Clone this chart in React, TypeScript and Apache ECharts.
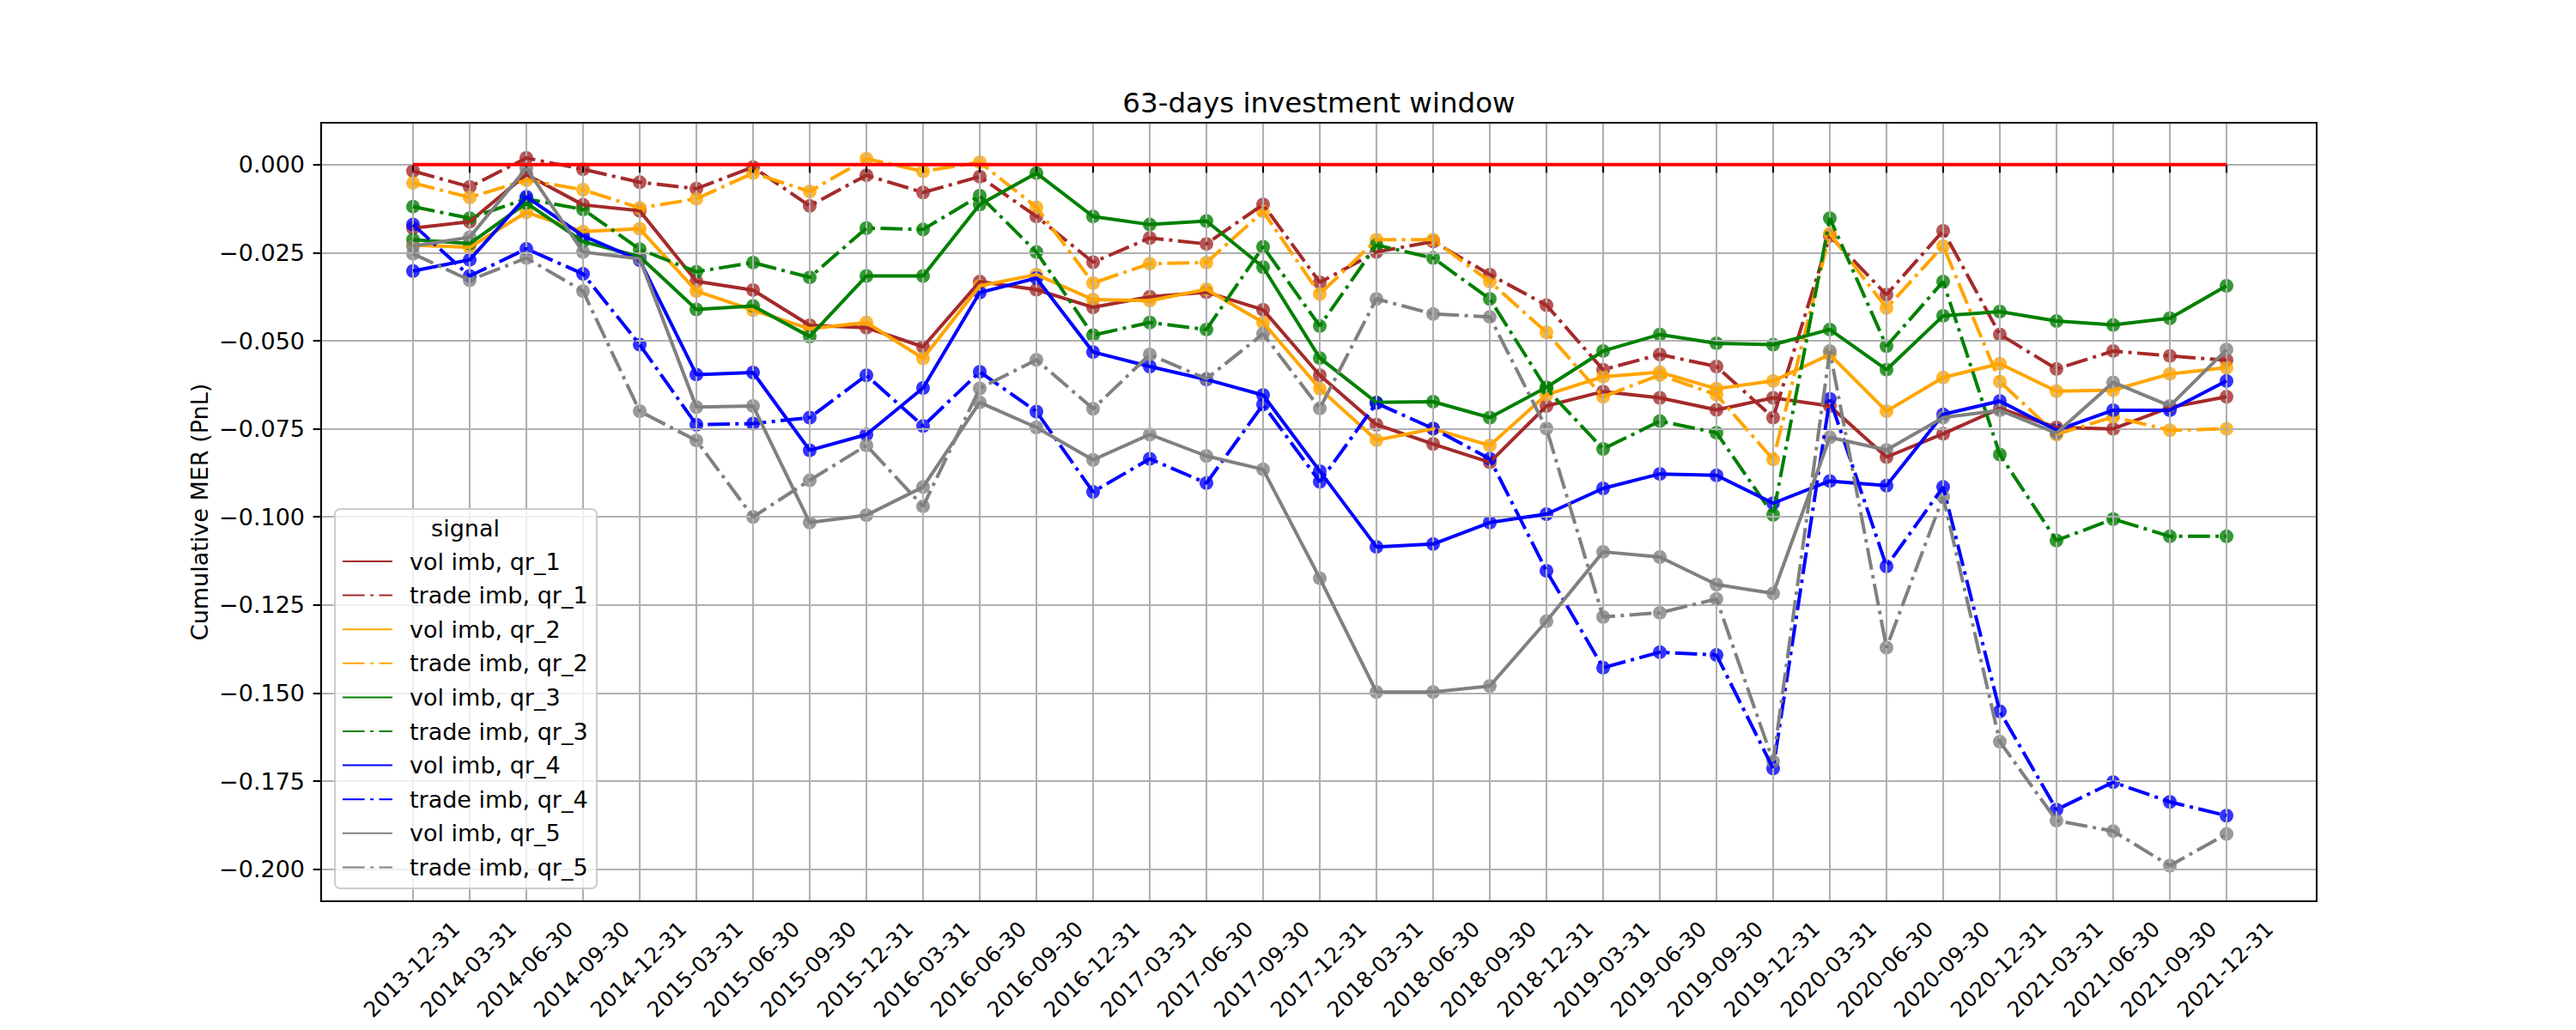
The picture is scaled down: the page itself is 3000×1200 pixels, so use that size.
import React, { useEffect, useRef } from "react";
import * as echarts from "echarts";

// ---------------- data ----------------
const categories = [
  "2013-12-31", "2014-03-31", "2014-06-30", "2014-09-30", "2014-12-31",
  "2015-03-31", "2015-06-30", "2015-09-30", "2015-12-31", "2016-03-31",
  "2016-06-30", "2016-09-30", "2016-12-31", "2017-03-31", "2017-06-30",
  "2017-09-30", "2017-12-31", "2018-03-31", "2018-06-30", "2018-09-30",
  "2018-12-31", "2019-03-31", "2019-06-30", "2019-09-30", "2019-12-31",
  "2020-03-31", "2020-06-30", "2020-09-30", "2020-12-31", "2021-03-31",
  "2021-06-30", "2021-09-30", "2021-12-31",
];

const volQr1 = [
  -0.018, -0.0162, -0.0028, -0.0114, -0.0131, -0.0331, -0.0356, -0.0456, -0.0463, -0.0517,
  -0.0332, -0.0355, -0.0405, -0.0375, -0.0362, -0.0412, -0.0598, -0.0738, -0.0793, -0.0845,
  -0.0685, -0.0644, -0.0662, -0.0696, -0.0662, -0.0685, -0.083, -0.0764, -0.0692, -0.0746,
  -0.075, -0.0689, -0.0659,
];
const tradeQr1 = [
  -0.0018, -0.0063, 0.0019, -0.0013, -0.005, -0.0068, -0.0007, -0.0117, -0.003, -0.0079,
  -0.0034, -0.0147, -0.0277, -0.0208, -0.0225, -0.0113, -0.0334, -0.0248, -0.0218, -0.0312,
  -0.0399, -0.0582, -0.0539, -0.0573, -0.0718, -0.0202, -0.0369, -0.0188, -0.0482, -0.058,
  -0.0529, -0.0543, -0.0555,
];
const volQr2 = [
  -0.0228, -0.0235, -0.0135, -0.019, -0.0182, -0.0359, -0.0413, -0.0466, -0.0448, -0.055,
  -0.0344, -0.0312, -0.0383, -0.0386, -0.0354, -0.0448, -0.0636, -0.0782, -0.075, -0.0797,
  -0.0653, -0.0602, -0.0589, -0.0636, -0.0614, -0.0539, -0.07, -0.0604, -0.0565, -0.0643,
  -0.064, -0.0594, -0.0576,
];
const tradeQr2 = [
  -0.0052, -0.0093, -0.0044, -0.0071, -0.0123, -0.0097, -0.0024, -0.0076, 0.0017, -0.0019,
  0.0007, -0.0121, -0.0336, -0.0281, -0.0278, -0.0133, -0.0367, -0.0213, -0.0213, -0.0332,
  -0.0476, -0.0659, -0.0597, -0.0653, -0.0837, -0.0196, -0.0407, -0.0231, -0.0616, -0.0766,
  -0.0716, -0.0754, -0.075,
];
const volQr3 = [
  -0.0213, -0.0224, -0.0109, -0.0218, -0.0261, -0.0411, -0.0401, -0.0488, -0.0316, -0.0316,
  -0.0113, -0.0024, -0.0147, -0.017, -0.016, -0.0291, -0.0549, -0.0675, -0.0673, -0.0718,
  -0.0632, -0.0529, -0.0482, -0.0507, -0.0511, -0.0468, -0.0582, -0.0429, -0.0417, -0.0444,
  -0.0455, -0.0436, -0.0344,
];
const tradeQr3 = [
  -0.0119, -0.0152, -0.0097, -0.0127, -0.024, -0.0304, -0.0278, -0.032, -0.018, -0.0184,
  -0.0088, -0.0248, -0.0484, -0.0448, -0.0468, -0.0233, -0.0458, -0.0228, -0.0265, -0.0381,
  -0.0636, -0.0807, -0.0728, -0.0761, -0.0994, -0.0152, -0.0515, -0.0332, -0.0823, -0.1067,
  -0.1006, -0.1055, -0.1055,
];
const volQr4 = [
  -0.0302, -0.027, -0.0091, -0.0202, -0.0271, -0.0596, -0.059, -0.0811, -0.0766, -0.0634,
  -0.0363, -0.0322, -0.0532, -0.0573, -0.061, -0.0654, -0.087, -0.1085, -0.1077, -0.1016,
  -0.0992, -0.0919, -0.0878, -0.0882, -0.0961, -0.0898, -0.0911, -0.0709, -0.0671, -0.0754,
  -0.0697, -0.0697, -0.0614,
];
const tradeQr4 = [
  -0.017, -0.0316, -0.0239, -0.031, -0.0511, -0.0738, -0.0735, -0.0718, -0.0598, -0.0742,
  -0.0588, -0.0701, -0.0929, -0.0835, -0.0904, -0.0681, -0.09, -0.0677, -0.0749, -0.0835,
  -0.1153, -0.1428, -0.1384, -0.1392, -0.1714, -0.0665, -0.114, -0.0915, -0.1552, -0.1831,
  -0.1753, -0.1809, -0.1848,
];
const volQr5 = [
  -0.0231, -0.0206, -0.001, -0.0248, -0.0267, -0.0688, -0.0685, -0.1016, -0.0995, -0.0915,
  -0.0675, -0.0746, -0.0838, -0.0766, -0.0827, -0.0865, -0.1174, -0.1497, -0.1497, -0.148,
  -0.1296, -0.1099, -0.1114, -0.1192, -0.1217, -0.0774, -0.081, -0.0718, -0.0697, -0.0762,
  -0.0618, -0.0685, -0.0525,
];
const tradeQr5 = [
  -0.0253, -0.0328, -0.0265, -0.0359, -0.07, -0.0783, -0.1, -0.0896, -0.0797, -0.097,
  -0.0635, -0.0554, -0.0693, -0.0539, -0.0608, -0.048, -0.0692, -0.0381, -0.0424, -0.0432,
  -0.0749, -0.1284, -0.1272, -0.1233, -0.1694, -0.0529, -0.1371, -0.0943, -0.1638, -0.1862,
  -0.1892, -0.199, -0.19,
];
const zeroLine = [
  0, 0, 0, 0, 0, 0, 0, 0, 0, 0, 0, 0, 0, 0, 0, 0, 0, 0, 0, 0, 0, 0, 0, 0, 0, 0, 0, 0, 0, 0, 0, 0, 0,
];

const seriesNames = [
  "vol imb, qr_1", "trade imb, qr_1",
  "vol imb, qr_2", "trade imb, qr_2",
  "vol imb, qr_3", "trade imb, qr_3",
  "vol imb, qr_4", "trade imb, qr_4",
  "vol imb, qr_5", "trade imb, qr_5",
];
const seriesValues = [
  volQr1, tradeQr1, volQr2, tradeQr2, volQr3, tradeQr3, volQr4, tradeQr4, volQr5, tradeQr5,
];
const seriesColors = [
  "#a52a2a", "#a52a2a", "#ffa500", "#ffa500", "#008000", "#008000",
  "#0000ff", "#0000ff", "#808080", "#808080",
];
const seriesDashDot = [false, true, false, true, false, true, false, true, false, true];

const titleText = "63-days investment window";
const yAxisTitle = "Cumulative MER (PnL)";
const legendTitle = "signal";
const yTickMin = -0.2;
const yTickMax = 0;
const yTickStep = 0.025;

// ---------------- layout / style ----------------
const FONT = "'DejaVu Sans', sans-serif";
const PLOT_LEFT = 374;
const PLOT_RIGHT = 2698;
const PLOT_TOP = 143;
const PLOT_BOTTOM = 1050;
const CAT_FIRST_X = 481;
const CAT_LAST_X = 2593;
const Y_MIN = -0.2091;
const Y_MAX = 0.0119;
const FS = 27;
const XFS = 25;
const LINE_W = 4;
const DASHDOT = [25.7, 6.4, 4, 6.4];
const GRID_COLOR = "#b0b0b0";
const THIN = 2.1;
const TICK_LEN = 9.4;

export default function App() {
  const ref = useRef<HTMLDivElement>(null);

  useEffect(() => {
    if (!ref.current) return;
    const chart = echarts.init(ref.current, undefined, { renderer: "svg" });

    const PW = PLOT_RIGHT - PLOT_LEFT;
    const PH = PLOT_BOTTOM - PLOT_TOP;
    const span = Y_MAX - Y_MIN;
    const tickGridTop = PLOT_TOP + ((Y_MAX - yTickMax) / span) * PH;
    const tickGridH = ((yTickMax - yTickMin) / span) * PH;
    const catW = CAT_LAST_X - CAT_FIRST_X;
    const labelDx = 50;

    const lineSeries: any[] = seriesNames.map((name, i) => ({
      type: "line",
      name,
      xAxisIndex: 2,
      yAxisIndex: 2,
      data: seriesValues[i],
      showSymbol: false,
      symbol: "circle",
      symbolSize: 16,
      lineStyle: {
        color: seriesColors[i],
        width: LINE_W,
        type: seriesDashDot[i] ? DASHDOT : "solid",
        cap: "butt",
      },
      itemStyle: { color: seriesColors[i] },
      z: 2,
      silent: true,
    }));
    const markerSeries: any[] = seriesNames.map((name, i) => ({
      type: "scatter",
      name: name + " markers",
      xAxisIndex: 2,
      yAxisIndex: 2,
      data: seriesValues[i],
      symbol: "circle",
      symbolSize: 16,
      itemStyle: { color: seriesColors[i] },
      z: 0,
      silent: true,
    }));

    const option: any = {
      animation: false,
      backgroundColor: "#ffffff",
      textStyle: { fontFamily: FONT },
      title: {
        text: titleText,
        left: (PLOT_LEFT + PLOT_RIGHT) / 2,
        top: 103,
        textAlign: "center",
        padding: 0,
        textStyle: { fontSize: 32.5, fontWeight: "normal", color: "#000", fontFamily: FONT },
      },
      grid: [
        { left: PLOT_LEFT, top: PLOT_TOP, width: PW, height: PH, show: false, containLabel: false, outerBoundsMode: "none" },
        { left: PLOT_LEFT, top: tickGridTop, width: PW, height: tickGridH, show: false, containLabel: false, outerBoundsMode: "none" },
        { left: CAT_FIRST_X, top: PLOT_TOP, width: catW, height: PH, show: false, containLabel: false, outerBoundsMode: "none" },
        { left: CAT_FIRST_X + labelDx, top: PLOT_TOP, width: catW, height: PH, show: false, containLabel: false, outerBoundsMode: "none" },
      ],
      xAxis: [
        { gridIndex: 0, type: "value", show: false, min: 0, max: 1 },
        { gridIndex: 1, type: "value", show: false, min: 0, max: 1 },
        {
          gridIndex: 2,
          type: "category",
          data: categories,
          boundaryGap: false,
          z: 1,
          axisLine: { show: false },
          axisTick: { show: true, interval: 0, length: TICK_LEN, lineStyle: { color: "#000", width: THIN } },
          axisLabel: { show: false },
          splitLine: { show: true, interval: 0, lineStyle: { color: GRID_COLOR, width: THIN } },
        },
        {
          gridIndex: 3,
          type: "category",
          data: categories,
          boundaryGap: false,
          axisLine: { show: false },
          axisTick: { show: false },
          splitLine: { show: false },
          axisLabel: {
            show: true,
            interval: 0,
            rotate: 45,
            margin: 28,
            fontSize: XFS,
            fontFamily: FONT,
            color: "#000",
            hideOverlap: false,
          },
        },
      ],
      yAxis: [
        {
          gridIndex: 0,
          type: "value",
          min: Y_MIN,
          max: Y_MAX,
          axisLine: { show: false },
          axisTick: { show: false },
          axisLabel: { show: false },
          splitLine: { show: false },
          name: yAxisTitle,
          nameLocation: "middle",
          nameGap: 128,
          nameTextStyle: { fontSize: FS, fontFamily: FONT, color: "#000" },
        },
        {
          gridIndex: 1,
          type: "value",
          min: yTickMin,
          max: yTickMax,
          interval: yTickStep,
          z: 1,
          axisLine: { show: false },
          axisTick: { show: true, length: TICK_LEN, lineStyle: { color: "#000", width: THIN } },
          axisLabel: {
            margin: 19,
            fontSize: FS,
            fontFamily: FONT,
            color: "#000",
            formatter: (v: number) => {
              const s = Math.abs(v).toFixed(3);
              return v < -1e-9 ? "\u2212" + s : s;
            },
          },
          splitLine: { show: true, lineStyle: { color: GRID_COLOR, width: THIN } },
        },
        { gridIndex: 2, type: "value", min: Y_MIN, max: Y_MAX, show: false },
        { gridIndex: 3, type: "value", min: Y_MIN, max: Y_MAX, show: false },
      ],
      legend: {
        show: true,
        data: seriesNames,
        orient: "vertical",
        left: 398,
        top: 640.5,
        padding: 0,
        itemWidth: 58,
        itemHeight: 27,
        itemGap: 12.6,
        selectedMode: false,
        itemStyle: { opacity: 0 },
        textStyle: { fontSize: FS, fontFamily: FONT, color: "#000", padding: [0, 0, 0, 15] },
        z: 20,
      },
      graphic: [
        {
          type: "rect",
          z: 30,
          silent: true,
          shape: { x: PLOT_LEFT, y: PLOT_TOP, width: PW, height: PH },
          style: { fill: "none", stroke: "#000", lineWidth: THIN },
        },
        {
          type: "rect",
          z: 15,
          silent: true,
          shape: { x: 390, y: 593, width: 305, height: 442, r: 6 },
          style: { fill: "rgba(255,255,255,0.8)", stroke: "#cccccc", lineWidth: THIN },
        },
        {
          type: "text",
          z: 21,
          silent: true,
          x: 542,
          y: 615,
          style: {
            text: legendTitle,
            align: "center",
            verticalAlign: "middle",
            fontSize: FS,
            fontFamily: FONT,
            fill: "#000",
          },
        },
      ],
      series: [
        ...markerSeries,
        ...lineSeries,
        {
          type: "line",
          name: "zero",
          xAxisIndex: 2,
          yAxisIndex: 2,
          data: zeroLine,
          showSymbol: false,
          symbol: "none",
          lineStyle: { color: "#ff0000", width: LINE_W },
          z: 3,
          silent: true,
        },
      ],
    };

    chart.setOption(option);
    return () => chart.dispose();
  }, []);

  return (
    <div
      ref={ref}
      style={{ width: 3000, height: 1200, position: "absolute", left: 0, top: 0 }}
    />
  );
}
